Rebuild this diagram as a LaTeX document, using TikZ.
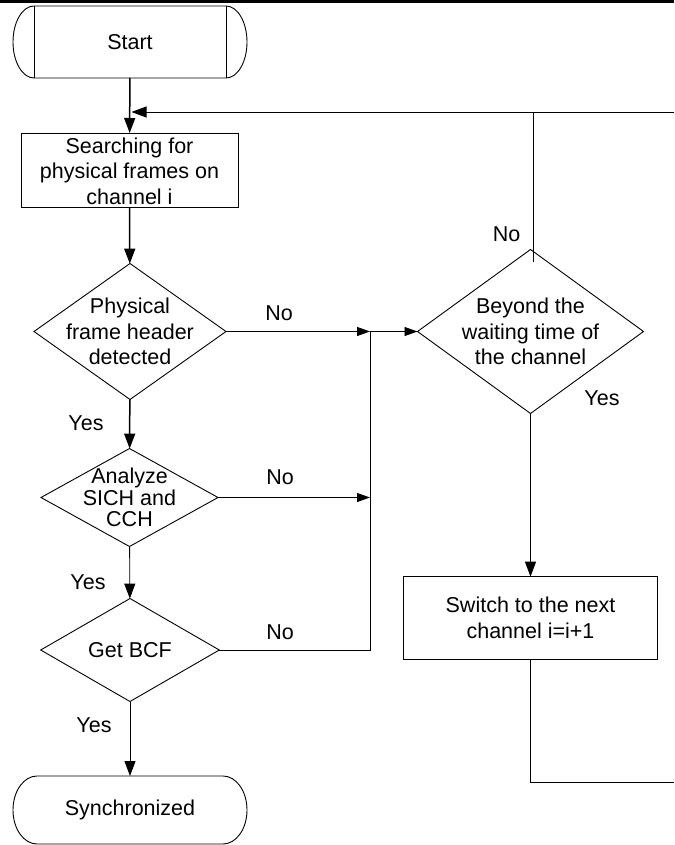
\documentclass[tikz,border=0pt]{standalone}
\usepackage{fontspec}
\setmainfont{Liberation Sans}
\usetikzlibrary{arrows.meta,shapes.geometric,calc}
\begin{document}
\begin{tikzpicture}[x=1pt,y=-1pt,
  every node/.style={font=\fontsize{21.5}{25.5}\selectfont, inner sep=0pt, outer sep=0pt},
  thinline/.style={line width=0.9pt, draw=black},
  mainline/.style={line width=1.5pt, draw=black},
  procbox/.style={draw, rectangle, line width=0.9pt, align=center},
  decision/.style={draw, diamond, line width=0.9pt},
  txt/.style={align=center},
  bigarrow/.style={-{Triangle[length=15pt,width=11pt]}},
  smallarrow/.style={-{Triangle[length=13pt,width=9pt]}}]

\useasboundingbox (0,0) rectangle (674,845);

% rule across the top
\draw[line width=3pt] (0,1.5) -- (674,1.5);

% terminators
\node[minimum width=234, minimum height=72] (start) at (130,42) {Start};
\draw[line width=0.9pt] (34,6) -- (226,6)
  .. controls (237.6,6) and (247,22.1) .. (247,42)
  .. controls (247,61.9) and (237.6,78) .. (226,78)
  -- (34,78)
  .. controls (22.4,78) and (13,61.9) .. (13,42)
  .. controls (13,22.1) and (22.4,6) .. cycle;
\draw[line width=0.9pt] (34,6) -- (34,78) (226,6) -- (226,78);

\node[minimum width=234, minimum height=68] (sync) at (130,810) {Synchronized};
\draw[line width=0.9pt] (37,776) -- (223,776)
  .. controls (236.3,776) and (247,791.2) .. (247,810)
  .. controls (247,828.8) and (236.3,844) .. (223,844)
  -- (37,844)
  .. controls (23.7,844) and (13,828.8) .. (13,810)
  .. controls (13,791.2) and (23.7,776) .. cycle;

% process boxes
\node[procbox, minimum width=217, minimum height=74] (search) at (129.5,170) {};
\node[txt] at ([yshift=-1pt]search.center) {Searching for\\physical frames on\\channel i};
\node[procbox, minimum width=254, minimum height=82.6] (switch) at (530.5,618)
  {Switch to the next\\channel i=i+1};

% decisions
\node[decision, minimum width=192, minimum height=136] (d1) at (130,331.5) {};
\node[txt] at (d1) {Physical\\frame header\\detected};
\node[decision, minimum width=177, minimum height=98] (d2) at (129.5,497.5) {};
\node[txt, font=\fontsize{21.5}{21.5}\selectfont] at (d2) {Analyze\\SICH and\\CCH};
\node[decision, minimum width=178.6, minimum height=103] (d3) at (130,650) {};
\node[txt] at (d3) {Get BCF};
\node[decision, minimum width=226, minimum height=164] (d4) at (530.5,331.5) {};
\node[txt] at (d4) {Beyond the\\waiting time of\\the channel};

% junction points and loose ends
\coordinate (j1) at (370,331.5);
\coordinate (j2) at (370,497.5);
\coordinate (j3) at (370,650);
\coordinate (fbR) at (674,112);
\coordinate (fbtip) at (131.5,112);
\coordinate (rb) at (674,782.7);
\coordinate (d4top) at ($(d4.north)+(3,12)$);

% main flow
\draw[mainline, bigarrow] (start) -- (search);
\draw[mainline, bigarrow] (search) -- (d1);
\draw[mainline, bigarrow] (d1) -- (d2);
\draw[thinline, bigarrow] (d2) -- (d3);
\draw[thinline, bigarrow] (d3) -- (sync);

% "No" branches
\draw[thinline, smallarrow] (d1.east) -- (j1);
\draw[thinline, smallarrow] (j1) -- (d4.west);
\draw[thinline, smallarrow] (d2.east) -- (j2);
\draw[thinline] (d3.east) -- (j3) -- (j1);

% channel loop
\draw[thinline, bigarrow] (d4) -- (switch);
\draw[thinline] (switch.south) |- (rb);
\draw[thinline] (d4top) -- (d4top |- fbR);
\draw[thinline, bigarrow] (fbR) -- (fbtip);

% branch labels
\node at (279,313) {No};
\node at (280,477) {No};
\node at (280,632) {No};
\node at (506.7,234) {No};
\node at (86,423) {Yes};
\node at (88,582) {Yes};
\node at (94,725) {Yes};
\node at (602,398) {Yes};
\end{tikzpicture}
\end{document}
